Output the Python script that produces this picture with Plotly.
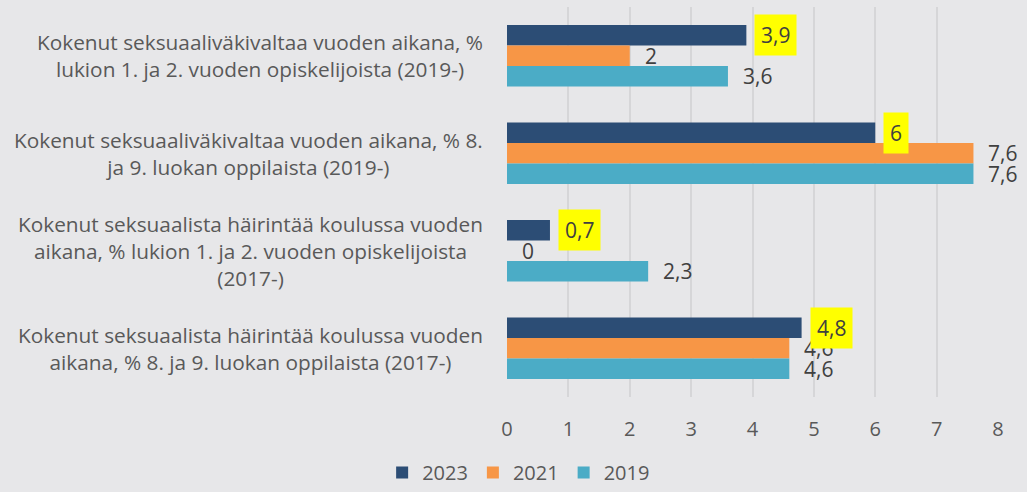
import plotly.graph_objects as go

categories = [
    "Kokenut seksuaaliväkivaltaa vuoden aikana, %<br>lukion 1. ja 2. vuoden opiskelijoista (2019-)",
    "Kokenut seksuaaliväkivaltaa vuoden aikana, % 8.<br>ja 9. luokan oppilaista (2019-)",
    "Kokenut seksuaalista häirintää koulussa vuoden<br>aikana, % lukion 1. ja 2. vuoden opiskelijoista<br>(2017-)",
    "Kokenut seksuaalista häirintää koulussa vuoden<br>aikana, % 8. ja 9. luokan oppilaista (2017-)",
]
series_names = ["2023", "2021", "2019"]
v2023 = [3.9, 6.0, 0.7, 4.8]
v2021 = [2.0, 7.6, 0.0, 4.6]
v2019 = [3.6, 7.6, 2.3, 4.6]
colors = ["#2c4d75", "#f79646", "#4bacc6"]
xticks = [0, 1, 2, 3, 4, 5, 6, 7, 8]

def fmt(v):
    s = ("%.1f" % v).rstrip("0").rstrip(".")
    return s.replace(".", ",")

FONT = "Open Sans"
fig = go.Figure()
for name, vals, col in zip(series_names, [v2023, v2021, v2019], colors):
    fig.add_trace(go.Bar(
        name=name, y=categories, x=vals, orientation="h",
        marker=dict(color=col, line=dict(width=0)),
        textposition="none", cliponaxis=False,
    ))

# value labels (2023 highlighted in yellow, drawn last so it sits on top)
shifts = {"2023": 20.5, "2021": 0, "2019": -20.5}
for name, vals in list(zip(series_names, [v2023, v2021, v2019]))[::-1]:
    for cat, v in zip(categories, vals):
        hl = name == "2023"
        fig.add_annotation(
            x=v, y=cat, xref="x", yref="y", text=fmt(v), showarrow=False,
            xanchor="left", yanchor="middle",
            xshift=8 if hl else 14, yshift=shifts[name],
            bgcolor="#ffff00" if hl else "rgba(0,0,0,0)",
            borderpad=6 if hl else 0,
            font=dict(family=FONT, size=21, color="#404040"),
        )

# category labels (centered multi-line)
for cat in categories:
    fig.add_annotation(
        x=-0.045, y=cat, xref="paper", yref="y", text=cat, showarrow=False,
        xanchor="right", yanchor="middle", align="center",
        font=dict(family=FONT, size=20.8, color="#595959"),
    )

fig.update_layout(
    width=1027, height=492,
    margin=dict(l=507, r=29, t=7, b=95),
    paper_bgcolor="#e7e7e9", plot_bgcolor="#e7e7e9",
    barmode="group", bargap=0.37, bargroupgap=0,
    showlegend=True,
    legend=dict(orientation="h", xref="container", yref="container",
                x=0.505, y=-0.024, xanchor="center", yanchor="bottom",
                font=dict(family=FONT, size=20, color="#595959"),
                traceorder="normal", itemwidth=30),
    font=dict(family=FONT, color="#595959"),
)
fig.update_xaxes(range=[0, 8], tickvals=xticks, ticktext=[str(t) for t in xticks],
                 showgrid=True, gridcolor="#d6d6d8", gridwidth=2, zeroline=False,
                 ticks="outside", ticklen=14, tickcolor="rgba(0,0,0,0)",
                 tickfont=dict(family=FONT, size=20, color="#595959"))
fig.update_yaxes(autorange="reversed", showticklabels=False, showgrid=False)

fig.write_html("out.html", config={"displayModeBar": False},
               post_script="document.body.style.margin='0';document.body.style.background='#e7e7e9';")
